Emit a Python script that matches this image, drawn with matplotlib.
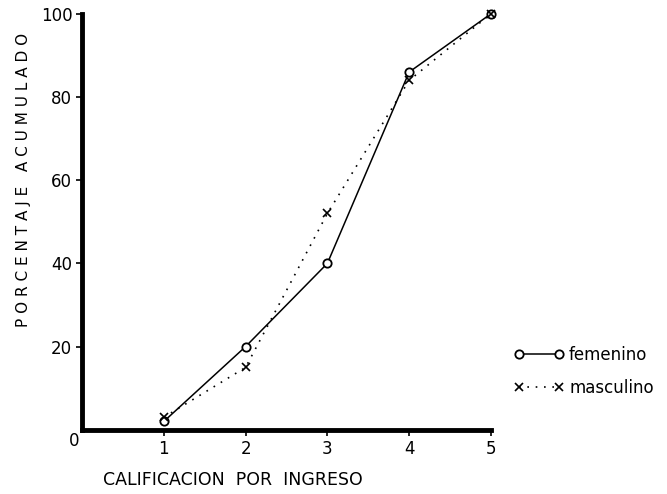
import matplotlib.pyplot as plt

# Datos
calificacion = [1, 2, 3, 4, 5]
femenino = [2, 20, 40, 86, 100]
masculino = [3, 15, 52, 84, 100]
y_ticks = [20, 40, 60, 80, 100]

fig = plt.figure(figsize=(6.67, 4.94), dpi=100)
ax = fig.add_axes([0.123, 0.13, 0.613, 0.842])

ax.plot(calificacion, femenino, '-', color='black', lw=1.1, marker='o',
        ms=6, mfc='white', mec='black', mew=1.3, label='femenino', clip_on=False)
ax.plot(calificacion, masculino, linestyle=(0, (1, 4)), color='black', lw=1.2,
        marker='x', ms=6, mew=1.2, label='masculino', clip_on=False)

ax.set_xlim(0, 5)
ax.set_ylim(0, 100)
ax.spines['top'].set_visible(False)
ax.spines['right'].set_visible(False)
ax.spines['left'].set_linewidth(3.5)
ax.spines['bottom'].set_linewidth(3.5)

ax.set_xticks(calificacion)
ax.set_yticks(y_ticks)
ax.tick_params(axis='both', direction='out', length=4, width=1.2, labelsize=12, pad=3)
ax.text(-0.03, -0.5, '0', fontsize=12, ha='right', va='top')

ax.set_xlabel('CALIFICACION  POR  INGRESO', fontsize=12.5, labelpad=10, x=0.37)
ax.set_ylabel('P O R C E N T A J E   A C U M U L A D O', fontsize=11,
              labelpad=7, y=0.6)

ax.legend(loc='center left', bbox_to_anchor=(1.02, 0.14), frameon=False,
          numpoints=2, handlelength=3.0, handletextpad=0.3, fontsize=12,
          labelspacing=0.9)

fig.savefig('out.png', dpi=100)
